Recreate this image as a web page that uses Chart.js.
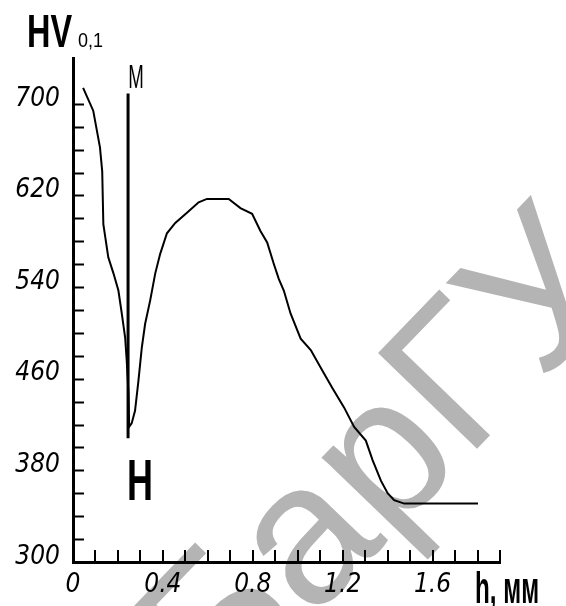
<!DOCTYPE html>
<html>
<head>
<meta charset="utf-8">
<script src="https://cdn.jsdelivr.net/npm/chart.js@4.4.1/dist/chart.umd.min.js"></script>
<style>
  html, body { margin: 0; padding: 0; background: #fff; }
  canvas { display: block; }
</style>
</head>
<body>
<canvas id="hv-chart" width="566" height="606"></canvas>
<script>
// Microhardness HV0,1 versus depth h (mm)
const depthMm = [0.045, 0.09, 0.12, 0.13, 0.135, 0.157, 0.18, 0.202, 0.217, 0.232, 0.239, 0.247, 0.25,
    0.261, 0.276, 0.291, 0.306, 0.321, 0.343, 0.366, 0.388, 0.418, 0.455, 0.507, 0.559, 0.596, 0.693,
    0.745, 0.797, 0.834, 0.864, 0.894, 0.916, 0.938, 0.968, 1.013, 1.058, 1.11, 1.154, 1.206, 1.251,
    1.303, 1.333, 1.37, 1.40, 1.429, 1.474, 1.802];
const hardness = [714, 694, 662, 641, 595, 566, 552, 537, 517, 496, 476, 447, 418,
    421, 432, 458, 487, 508, 528, 552, 569, 587, 596, 605, 614, 617, 617,
    609, 604, 589, 579, 560, 547, 537, 517, 495, 485, 467, 452, 435, 418,
    406, 389, 371, 360, 354, 351, 351];

// boundary line "М"
const markDepth = [0.245, 0.245];
const markHardness = [709, 408];

const xTickLabels = ['0', '0.4', '0.8', '1.2', '1.6'];
const yTickLabels = ['300', '380', '460', '540', '620', '700'];

const TICK_FONT = { family: "'DejaVu Sans Condensed', 'DejaVu Sans', sans-serif", size: 26, style: 'italic', weight: '200' };

function pickLabel(list, value) {
    const hit = list.find(t => Math.abs(parseFloat(t) - value) < 1e-6);
    return hit === undefined ? '' : hit;
}

// text drawn squeezed horizontally, like the narrow plotter font of the original
function squeezed(ctx, text, x, y, font, sx, align) {
    ctx.save();
    ctx.font = font;
    ctx.textAlign = align || 'left';
    ctx.textBaseline = 'alphabetic';
    ctx.translate(x, y);
    ctx.scale(sx, 1);
    ctx.fillText(text, 0, 0);
    ctx.restore();
}

const decorations = {
    id: 'decorations',
    beforeDraw(chart) {
        const ctx = chart.ctx;
        ctx.save();
        ctx.fillStyle = '#fff';
        ctx.fillRect(0, 0, chart.width, chart.height);
        // watermark of the source
        ctx.translate(220, 715);
        ctx.rotate(-46 * Math.PI / 180);
        ctx.fillStyle = '#b4b4b4';
        ctx.font = "200px 'Liberation Sans', sans-serif";
        ctx.fillText('БарГУ', 0, 0);
        ctx.restore();
    },
    afterDraw(chart) {
        const { ctx, chartArea, scales: { x, y } } = chart;
        ctx.save();
        ctx.strokeStyle = '#000';
        ctx.fillStyle = '#000';
        ctx.lineWidth = 2;

        // tick marks point inside the plot
        y.ticks.forEach(t => {
            if (t.value <= 300 || t.value > 700) return;
            const py = Math.round(y.getPixelForValue(t.value)) + 0.5;
            ctx.beginPath();
            ctx.moveTo(chartArea.left, py);
            ctx.lineTo(chartArea.left + 11, py);
            ctx.stroke();
        });
        x.ticks.forEach(t => {
            if (t.value <= 0) return;
            const px = Math.round(x.getPixelForValue(t.value));
            ctx.beginPath();
            ctx.moveTo(px, chartArea.bottom);
            ctx.lineTo(px, chartArea.bottom - 12);
            ctx.stroke();
        });

        // axis titles
        squeezed(ctx, 'HV', chartArea.left - 46, chartArea.top - 11, "bold 47px 'Liberation Sans', sans-serif", 0.69);
        squeezed(ctx, '0,1', chartArea.left + 5, chartArea.top - 11, "20px 'Liberation Sans', sans-serif", 0.9);
        squeezed(ctx, 'h, мм', chartArea.right - 25, chartArea.bottom + 41, "bold 44px 'Liberation Sans', sans-serif", 0.55);

        // zone labels
        squeezed(ctx, 'М', x.getPixelForValue(0.28), y.getPixelForValue(714), "34px 'Liberation Sans', sans-serif", 0.55, 'center');
        squeezed(ctx, 'Н', x.getPixelForValue(0.298), y.getPixelForValue(354), "bold 58px 'Liberation Sans', sans-serif", 0.62, 'center');
        ctx.restore();
    }
};

new Chart(document.getElementById('hv-chart'), {
    type: 'scatter',
    data: {
        datasets: [{
            data: depthMm.map((h, i) => ({ x: h, y: hardness[i] })),
            showLine: true,
            borderColor: '#000',
            borderWidth: 2,
            pointRadius: 0,
            tension: 0
        }, {
            data: markDepth.map((h, i) => ({ x: h, y: markHardness[i] })),
            showLine: true,
            borderColor: '#000',
            borderWidth: 3,
            pointRadius: 0
        }]
    },
    options: {
        responsive: false,
        animation: false,
        events: [],
        layout: { padding: { top: 58, right: 66, left: 0, bottom: 0 } },
        plugins: {
            legend: { display: false },
            tooltip: { enabled: false }
        },
        scales: {
            x: {
                type: 'linear',
                min: 0,
                max: 1.9,
                grid: { display: false },
                border: { display: true, color: '#000', width: 3 },
                ticks: {
                    stepSize: 0.1,
                    autoSkip: false,
                    maxRotation: 0,
                    padding: 0,
                    color: '#000',
                    font: TICK_FONT,
                    callback: v => pickLabel(xTickLabels, v)
                },
                afterFit: s => { s.height = 44; }
            },
            y: {
                min: 300,
                max: 740,
                grid: { display: false },
                border: { display: true, color: '#000', width: 3 },
                ticks: {
                    stepSize: 20,
                    autoSkip: false,
                    padding: 5,
                    labelOffset: -5,
                    color: '#000',
                    font: TICK_FONT,
                    callback: v => pickLabel(yTickLabels, v)
                },
                afterFit: s => { s.width = 73; }
            }
        }
    },
    plugins: [decorations]
});
</script>
</body>
</html>
